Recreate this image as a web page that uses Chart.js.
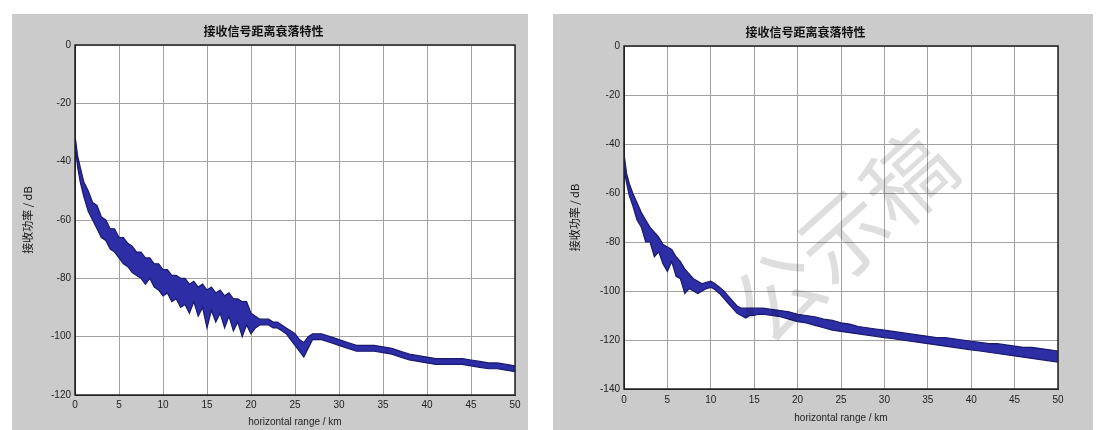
<!DOCTYPE html>
<html lang="zh">
<head>
<meta charset="UTF-8">
<title>接收信号距离衰落特性</title>
<script src="https://cdn.jsdelivr.net/npm/chart.js"></script>
<style>
    body { margin: 0; background: #fff; width: 1099px; height: 430px; overflow: hidden; position: relative; }
    .panel { position: absolute; background: #cbcbcb; }
    #p1 { left: 12px; top: 14px; width: 516px; height: 416px; }
    #p2 { left: 553px; top: 14px; width: 540px; height: 416px; }
    canvas { display: block; }
</style>
</head>
<body>
<div class="panel" id="p1"><canvas id="c1" width="516" height="416"></canvas></div>
<div class="panel" id="p2"><canvas id="c2" width="540" height="416"></canvas></div>
<script>
// 左图：距离 (km) 与 接收功率包络 (dB)
const leftRange = [0, 0.3, 0.6, 1, 1.5, 2, 2.5, 3, 3.5, 4, 4.5, 5, 5.5, 6, 6.5, 7, 7.5, 8, 8.5, 9, 9.5, 10,
    10.5, 11, 11.5, 12, 12.5, 13, 13.5, 14, 14.5, 15, 15.5, 16, 16.5, 17, 17.5, 18, 18.5, 19, 19.5, 20,
    20.5, 21, 21.5, 22, 22.5, 23, 23.5, 24, 24.5, 25, 25.5, 26, 26.5, 27, 27.5, 28, 29, 30, 31, 32, 33, 34,
    35, 36, 37, 38, 39, 40, 41, 42, 43, 44, 45, 46, 47, 48, 49, 50];
const leftUpper = [-31, -38, -42, -47, -50, -54, -55, -59, -60, -63, -63, -66, -66, -68, -69, -71, -71, -73, -73, -75, -75, -77,
    -77, -79, -79, -80, -80, -82, -81, -83, -82, -84, -83, -85, -84, -86, -85, -87, -87, -88, -88, -92,
    -93, -94, -94, -94, -95, -95, -96, -97, -98, -99, -101, -102, -100, -99, -99, -99, -100, -101, -102, -103, -103, -103,
    -103.5, -104, -105, -106, -106.5, -107, -107.5, -107.5, -107.5, -107.5, -108, -108.5, -109, -109, -109.5, -110];
const leftLower = [-34, -42, -47, -52, -57, -60, -63, -66, -67, -70, -71, -73, -75, -76, -78, -79, -80, -82, -80, -83, -84, -86,
    -85, -88, -87, -90, -89, -92, -88, -93, -90, -97, -91, -95, -92, -97, -93, -98, -95, -100, -96, -99,
    -97, -96, -96, -96, -97, -97, -98, -99, -101, -103, -105, -107, -104, -101, -101, -101, -102, -103, -104, -105, -105, -105,
    -105.5, -106, -107, -108, -108.5, -109, -109.5, -109.5, -109.5, -109.5, -110, -110.5, -111, -111, -111.5, -112];

// 右图
const rightRange = [0, 0.3, 0.6, 1, 1.5, 2, 2.5, 3, 3.5, 4, 4.5, 5, 5.5, 6, 6.5, 7, 7.5, 8, 8.5, 9, 9.5, 10,
    10.5, 11, 11.5, 12, 12.5, 13, 13.5, 14, 14.5, 15, 15.5, 16, 17, 18, 19, 20, 21, 22, 23, 24, 25,
    26, 27, 28, 29, 30, 31, 32, 33, 34, 35, 36, 37, 38, 39, 40, 41, 42, 43, 44, 45, 46, 47, 48, 49, 50];
const rightUpper = [-44, -52, -56, -60, -64, -68, -71, -74, -76, -78, -81, -82, -83, -86, -88, -91, -93, -95, -96, -97, -96.5, -96,
    -97, -98.5, -100, -102, -104, -106, -107, -107, -107, -107, -107, -107, -107.5, -108, -108.5, -109.5, -110, -110.5, -111.5, -112, -113,
    -113.5, -114.5, -115, -115.5, -116, -116.5, -117, -117.5, -118, -118.5, -119, -119, -119.5, -120, -120.5, -121, -121.5, -121.5, -122, -122.5, -123, -123, -123.5, -124, -124.5];
const rightLower = [-50, -56, -61, -65, -71, -74, -80, -80, -86, -84, -89, -92, -88, -94, -95, -101, -99, -100, -101, -100, -99, -98.5,
    -99.5, -101, -103, -105, -107, -109, -110, -111, -110, -110, -109.5, -109.5, -110, -110.5, -111.5, -112.5, -113, -114, -115, -116, -116.5,
    -117, -117.5, -118, -118.5, -119, -119.5, -120, -120.5, -121, -121.5, -122, -122.5, -123, -123.5, -124, -124.5, -125, -125.5, -126, -126.5, -127, -127.5, -128, -128.5, -129];

const titleText = '接收信号距离衰落特性';
const yTitle = '接收功率 / dB';
const xTitle = 'horizontal range / km';

const lineColor = 'rgb(25,25,110)';
const fillColor = 'rgb(45,45,165)';
const gridColor = '#a2a2a2';
const latin = '"Liberation Sans", Arial, sans-serif';
const cjk = '"Noto Sans CJK SC", sans-serif';

// 白色绘图区 + 坐标框
const boxPlugin = {
    id: 'box',
    beforeDraw(chart) {
        const a = chart.chartArea, ctx = chart.ctx;
        ctx.save();
        ctx.fillStyle = '#fff';
        ctx.fillRect(a.left, a.top, a.right - a.left, a.bottom - a.top);
        ctx.restore();
    },
    afterDraw(chart) {
        const a = chart.chartArea, ctx = chart.ctx;
        ctx.save();
        ctx.strokeStyle = '#222';
        ctx.lineWidth = 1.5;
        ctx.strokeRect(a.left, a.top, a.right - a.left, a.bottom - a.top);
        ctx.restore();
    }
};

// 水印
const watermark = {
    id: 'watermark',
    afterDraw(chart) {
        const ctx = chart.ctx;
        ctx.save();
        ctx.translate(290, 222);
        ctx.rotate(-42 * Math.PI / 180);
        ctx.font = '88px ' + cjk;
        ctx.fillStyle = 'rgba(0,0,0,0.13)';
        ctx.textAlign = 'center';
        ctx.textBaseline = 'middle';
        ctx.fillText('公示稿', 0, 0);
        ctx.restore();
    }
};

function makeChart(id, range, upper, lower, cfg) {
    const pts = arr => arr.map((v, i) => ({ x: range[i], y: v }));
    return new Chart(document.getElementById(id), {
        type: 'line',
        data: {
            datasets: [
                { data: pts(upper), borderColor: lineColor, borderWidth: 1.2, pointRadius: 0, fill: false, tension: 0 },
                { data: pts(lower), borderColor: lineColor, borderWidth: 1.2, pointRadius: 0, fill: '-1', backgroundColor: fillColor, tension: 0 }
            ]
        },
        options: {
            responsive: false,
            animation: false,
            layout: { padding: { left: 0, right: cfg.padRight, top: 0, bottom: 0 } },
            plugins: {
                legend: { display: false },
                tooltip: { enabled: false },
                title: {
                    display: true, text: titleText, color: '#111',
                    font: { family: cjk, size: 12, weight: 'bold', lineHeight: 1.25 },
                    padding: { top: cfg.titleTop, bottom: cfg.titleBottom }
                }
            },
            scales: {
                x: {
                    type: 'linear', min: 0, max: 50,
                    ticks: { stepSize: 5, color: '#222', padding: cfg.xTickPad, font: { family: latin, size: 10 }, maxRotation: 0 },
                    grid: { color: gridColor, lineWidth: 1, drawTicks: false },
                    border: { color: '#222' },
                    title: { display: true, text: xTitle, color: '#222', font: { family: latin, size: 10, lineHeight: 1.2 }, padding: { top: 0, bottom: cfg.xTitlePad } },
                    afterFit(s) { s.height = cfg.xHeight; s.paddingLeft = 0; s.paddingRight = 0; }
                },
                y: {
                    min: cfg.yMin, max: 0,
                    ticks: { stepSize: 20, color: '#222', padding: 4, font: { family: latin, size: 10 } },
                    grid: { color: gridColor, lineWidth: 1, drawTicks: false },
                    border: { color: '#222' },
                    title: { display: true, text: yTitle, color: '#111', font: { family: cjk, size: 11, lineHeight: 1.2 }, padding: { top: cfg.yTitlePad, bottom: 0 } },
                    afterFit(s) { s.width = cfg.yWidth; s.paddingTop = 0; s.paddingBottom = 0; }
                }
            }
        },
        plugins: cfg.extra
    });
}

makeChart('c1', leftRange, leftUpper, leftLower, {
    padRight: 13, titleTop: 10, titleBottom: 6, xHeight: 35, xTickPad: 4, xTitlePad: 2,
    yMin: -120, yWidth: 63, yTitlePad: 9, extra: [boxPlugin]
});

makeChart('c2', rightRange, rightUpper, rightLower, {
    padRight: 35, titleTop: 11, titleBottom: 6, xHeight: 41, xTickPad: 5, xTitlePad: 6,
    yMin: -140, yWidth: 71, yTitlePad: 15, extra: [boxPlugin, watermark]
});
</script>
</body>
</html>
